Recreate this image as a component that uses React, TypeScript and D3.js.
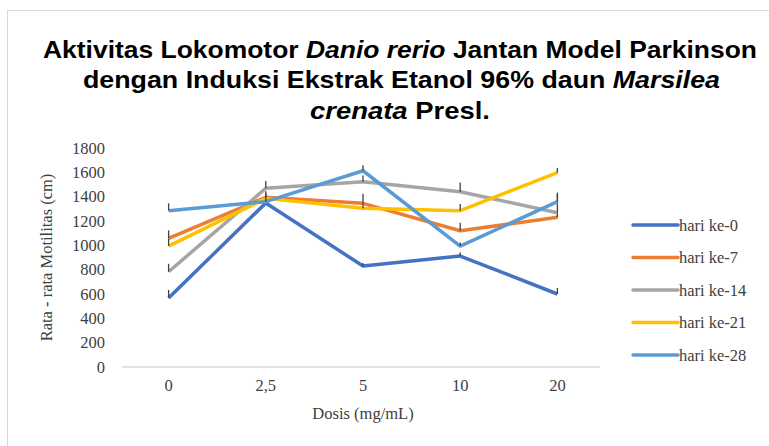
import React from 'react';
import * as d3 from 'd3';

const doses = ['0', '2,5', '5', '10', '20'];
const seriesNames = ['hari ke-0', 'hari ke-7', 'hari ke-14', 'hari ke-21', 'hari ke-28'];
const hari0 = [568, 1348, 830, 912, 600];
const hari7 = [1058, 1395, 1345, 1120, 1230];
const hari14 = [783, 1469, 1523, 1441, 1268];
const hari21 = [994, 1386, 1304, 1285, 1597];
const hari28 = [1285, 1359, 1613, 994, 1359];
// upper error bars
const err0 = [65, 40, 25, 30, 50];
const err7 = [65, 50, 80, 65, 40];
const err14 = [65, 60, 50, 75, 165];
const err21 = [60, 40, 40, 55, 40];
const err28 = [60, 40, 45, 30, 60];
const yTicks = [0, 200, 400, 600, 800, 1000, 1200, 1400, 1600, 1800];

const colors = ['#4472C4', '#ED7D31', '#A5A5A5', '#FFC000', '#5B9BD5'];

const W = 769;
const H = 446;

const serifStyle: React.CSSProperties = {
  fontFamily: "'Liberation Serif', 'Times New Roman', serif",
  fontSize: '16.5px',
  fill: '#404040',
};

export default function App() {
  const values = [hari0, hari7, hari14, hari21, hari28];
  const errs = [err0, err7, err14, err21, err28];

  const x = d3.scaleBand<string>().domain(doses).range([120, 606]);
  const cx = (d: string) => (x(d) || 0) + x.bandwidth() / 2;
  const y = d3.scaleLinear().domain([0, 1800]).range([367, 148]);

  const line = d3.line<number>()
    .x((_, i) => cx(doses[i]))
    .y(v => y(v));

  const titleStyle: React.CSSProperties = {
    fontFamily: "'Liberation Sans', Arial, sans-serif",
    fontWeight: 'bold',
    fontSize: '24px',
    fill: '#000',
  };

  return (
    <div style={{ position: 'absolute', left: 0, top: 0 }}>
      <svg width={W} height={H} style={{ display: 'block', background: '#fff' }}>
        <rect x={7.5} y={10.5} width={W + 10} height={H + 10} fill="#fff" stroke="#D9D9D9" />

        {/* title */}
        <text x={43} y={58} textLength={714} lengthAdjust="spacingAndGlyphs" style={titleStyle}>
          Aktivitas Lokomotor <tspan fontStyle="italic">Danio rerio</tspan> Jantan Model Parkinson
        </text>
        <text x={83} y={88} textLength={637} lengthAdjust="spacingAndGlyphs" style={titleStyle}>
          dengan Induksi Ekstrak Etanol 96% daun <tspan fontStyle="italic">Marsilea</tspan>
        </text>
        <text x={310} y={119} textLength={180} lengthAdjust="spacingAndGlyphs" style={titleStyle}>
          <tspan fontStyle="italic">crenata</tspan> Presl.
        </text>

        {/* y axis labels */}
        {yTicks.map(t => (
          <text key={t} x={105} y={y(t)} dy="0.35em" textAnchor="end" style={serifStyle}>{t}</text>
        ))}
        <text
          transform={`translate(52,${(y(0) + y(1800)) / 2}) rotate(-90)`}
          textAnchor="middle"
          style={serifStyle}
        >
          Rata - rata Motilitas (cm)
        </text>

        {/* x axis */}
        <line x1={122} x2={600} y1={y(0)} y2={y(0)} stroke="#D9D9D9" strokeWidth={1.5} />
        {doses.map(d => (
          <text key={d} x={cx(d)} y={391} textAnchor="middle" style={serifStyle}>{d}</text>
        ))}
        <text x={cx('5')} y={419} textAnchor="middle" style={serifStyle}>
          Dosis (mg/mL)
        </text>

        {/* series */}
        {values.map((vals, si) => (
          <g key={si}>
            <path d={line(vals) || ''} fill="none" stroke={colors[si]} strokeWidth={3.5} strokeLinejoin="round" />
            {vals.map((v, i) => (
              <line
                key={i}
                x1={cx(doses[i])}
                x2={cx(doses[i])}
                y1={y(v)}
                y2={y(v + errs[si][i])}
                stroke="#404040"
                strokeWidth={1.3}
              />
            ))}
          </g>
        ))}

        {/* legend */}
        {seriesNames.map((n, i) => (
          <g key={n} transform={`translate(633,${225 + i * 32.5})`}>
            <line x1={0} x2={45} y1={0} y2={0} stroke={colors[i]} strokeWidth={3.5} strokeLinecap="round" />
            <text x={46} y={0} dy="0.35em" style={serifStyle}>{n}</text>
          </g>
        ))}
      </svg>
    </div>
  );
}
